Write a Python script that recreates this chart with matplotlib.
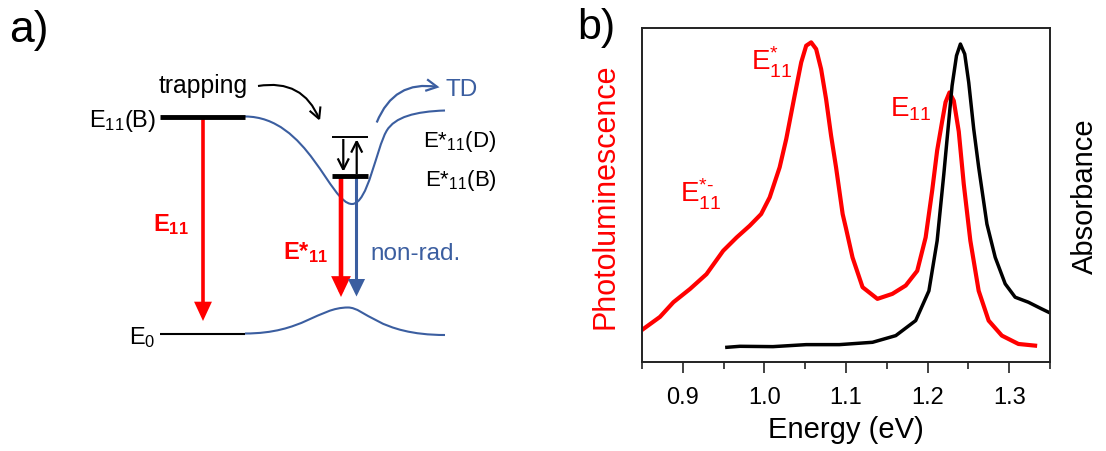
import matplotlib
matplotlib.use("Agg")
import matplotlib.pyplot as plt
from matplotlib.path import Path
from matplotlib.patches import PathPatch, FancyArrowPatch, ArrowStyle
from matplotlib.ticker import MultipleLocator, FixedLocator

plt.rcParams['font.family'] = ['Liberation Sans', 'DejaVu Sans']
plt.rcParams['mathtext.fontset'] = 'custom'
plt.rcParams['mathtext.rm'] = 'Liberation Sans'
plt.rcParams['mathtext.it'] = 'Liberation Sans:italic'
plt.rcParams['mathtext.bf'] = 'Liberation Sans:bold'
plt.rcParams['mathtext.default'] = 'regular'

# ---------------- data (panel b) ----------------
pl_energy = [0.850, 0.872, 0.8885, 0.909, 0.929, 0.9495, 0.966, 0.982, 0.996,
             1.0065, 1.0187, 1.0268, 1.037, 1.0451, 1.0512, 1.0573, 1.0634,
             1.0695, 1.0756, 1.0817, 1.0878, 1.0959, 1.100, 1.108, 1.1203,
             1.1385, 1.1568, 1.1732, 1.1873, 1.1976, 1.2056, 1.2117, 1.2178,
             1.222, 1.2268, 1.2321, 1.2382, 1.2443, 1.2524, 1.2626, 1.2748,
             1.291, 1.3113, 1.3317]
pl_intensity = [0.096, 0.135, 0.179, 0.219, 0.263, 0.333, 0.373, 0.408, 0.443,
                0.493, 0.583, 0.668, 0.797, 0.897, 0.947, 0.957, 0.937,
                0.877, 0.787, 0.678, 0.583, 0.443, 0.400, 0.313, 0.224,
                0.189, 0.204, 0.229, 0.273, 0.373, 0.513, 0.633, 0.720,
                0.778, 0.807, 0.782, 0.690, 0.533, 0.363, 0.213, 0.124,
                0.079, 0.054, 0.049]

abs_energy = [0.954, 0.970, 1.0105, 1.0512, 1.0918, 1.1325, 1.161, 1.1854,
              1.2016, 1.2117, 1.2199, 1.2239, 1.230, 1.2354, 1.2402, 1.2455,
              1.2504, 1.2565, 1.2626, 1.2727, 1.2829, 1.2951, 1.3073, 1.3235,
              1.3398, 1.350]
abs_intensity = [0.044, 0.047, 0.046, 0.052, 0.052, 0.059, 0.079, 0.124,
                 0.213, 0.363, 0.563, 0.668, 0.827, 0.917, 0.952, 0.922,
                 0.837, 0.698, 0.583, 0.413, 0.313, 0.234, 0.194, 0.179,
                 0.159, 0.147]

x_ticks = [0.9, 1.0, 1.1, 1.2, 1.3]
x_tick_labels = ['0.9', '1.0', '1.1', '1.2', '1.3']

RED = '#FF0000'
BLUE = '#3B5EA0'

fig = plt.figure(figsize=(11.06, 4.52), dpi=100)

# ---------------- panel a: energy diagram (pixel-like coordinates) ----------------
axa = fig.add_axes([0, 0, 553 / 1106, 1])
axa.set_xlim(0, 553)
axa.set_ylim(452, 0)
axa.axis('off')

# levels
axa.plot([160, 245], [117.5, 117.5], color='black', lw=3.5, solid_capstyle='butt')
axa.plot([160, 245], [334.5, 334.5], color='black', lw=1.5, solid_capstyle='butt')
axa.plot([331.5, 367.5], [138.3, 138.3], color='black', lw=1.4, solid_capstyle='butt')
axa.plot([331.5, 367.5], [176.7, 176.7], color='black', lw=3.5, solid_capstyle='butt')

# potential curves (schematic Bezier shapes)
M, C = Path.MOVETO, Path.CURVE4
upper = Path([(245, 117.5), (308, 117.5), (330, 205), (352, 205),
              (368, 205), (376, 150), (386.7, 131.7),
              (395, 118), (415, 112.5), (445, 111.5)],
             [M, C, C, C, C, C, C, C, C, C])
lower = Path([(245, 334.5), (303, 334.5), (318, 308.5), (348, 308.5),
              (365, 308.5), (378, 336), (445, 336)],
             [M, C, C, C, C, C, C])
for p in (upper, lower):
    axa.add_patch(PathPatch(p, facecolor='none', edgecolor=BLUE, lw=1.5))


def arrow(p0, p1, color, lw, style, hl, hw, conn='arc3,rad=0'):
    st = ArrowStyle(style, head_length=hl, head_width=hw)
    a = FancyArrowPatch(p0, p1, arrowstyle=st, mutation_scale=1, color=color,
                        lw=lw, shrinkA=0, shrinkB=0, connectionstyle=conn,
                        joinstyle='miter', capstyle='butt')
    axa.add_patch(a)


# vertical transitions
arrow((203, 120), (203, 322), RED, 2.6, '-|>', 9.5, 4.4)
arrow((341, 179), (341, 298), RED, 3.3, '-|>', 9.5, 4.5)
arrow((356.5, 179), (356.5, 297.5), BLUE, 2.2, '-|>', 9.0, 4.4)
# small arrows between E*11 levels
arrow((343.3, 140), (343.3, 173), 'black', 1.6, '->', 8.0, 4.0)
arrow((356.7, 175), (356.7, 140), 'black', 1.6, '->', 8.0, 4.0)
# curved arrows
arrow((258, 87), (320, 122), 'black', 1.5, '->', 8.0, 4.2, 'arc3,rad=-0.4')
arrow((376.7, 123.5), (439.5, 88.3), BLUE, 1.6, '->', 8.0, 4.2, 'arc3,rad=-0.4')

axa.text(9, 42, 'a)', fontsize=32, ha='left', va='baseline')
axa.text(156, 127, r'E$_{11}$(B)', fontsize=17, ha='right', va='baseline')
axa.text(156, 344, r'E$_{0}$', fontsize=17, ha='right', va='baseline')
axa.text(159, 93.5, 'trapping', fontsize=17.8, ha='left', va='baseline')
axa.text(446, 96, 'TD', fontsize=17.5, ha='left', va='baseline', color=BLUE)
axa.text(423, 147.5, r'E*$_{11}$(D)', fontsize=16, ha='left', va='baseline')
axa.text(425, 186, r'E*$_{11}$(B)', fontsize=16, ha='left', va='baseline')
axa.text(153, 231, r'$\mathbf{E}_{\mathbf{11}}$', fontsize=17, ha='left',
         va='baseline', color=RED)
axa.text(283, 259.5, r'$\mathbf{E}$*$_{\mathbf{11}}$', fontsize=17,
         fontweight='bold', ha='left', va='baseline', color=RED)
axa.text(370, 260, 'non-rad.', fontsize=17.5, ha='left', va='baseline', color=BLUE)

# ---------------- panel b: spectra ----------------
ax = fig.add_axes([642 / 1106, 1 - 363 / 452, 408 / 1106, 334 / 452])
ax.plot(pl_energy, pl_intensity, color=RED, lw=3.0, solid_joinstyle='round')
ax.plot(abs_energy, abs_intensity, color='black', lw=2.5, solid_joinstyle='round')
ax.set_xlim(0.85, 1.35)
ax.set_ylim(0, 1)
ax.xaxis.set_major_locator(FixedLocator(x_ticks))
ax.set_xticklabels(x_tick_labels)
ax.xaxis.set_minor_locator(MultipleLocator(0.05))
ax.set_yticks([])
ax.tick_params(axis='x', which='major', direction='out', length=8, width=1.2,
               labelsize=17, pad=9, color='#222222')
ax.tick_params(axis='x', which='minor', direction='out', length=4.8, width=1.2,
               color='#222222')
for s in ax.spines.values():
    s.set_linewidth(1.4)
    s.set_color('#222222')

ax.set_xlabel('Energy (eV)', fontsize=21, labelpad=5)
ax.set_ylabel('Photoluminescence', fontsize=22, color=RED)
ax.yaxis.set_label_coords(-0.052, 0.5)
ax.text(1.086, 0.5, 'Absorbance', fontsize=21, rotation=90, ha='center',
        va='center', transform=ax.transAxes)

ax.text(0.9833, 0.877, r'E$^{*}_{11}$', fontsize=20, color=RED, va='baseline')
ax.text(0.8967, 0.482, 'E$^{*\u2010}_{11}$', fontsize=20, color=RED, va='baseline')
ax.text(1.154, 0.737, r'E$_{11}$', fontsize=20, color=RED, va='baseline')

fig.text(577 / 1106, 1 - 38.5 / 452, 'b)', fontsize=31, ha='left', va='baseline')

fig.savefig('out.png', dpi=100)
